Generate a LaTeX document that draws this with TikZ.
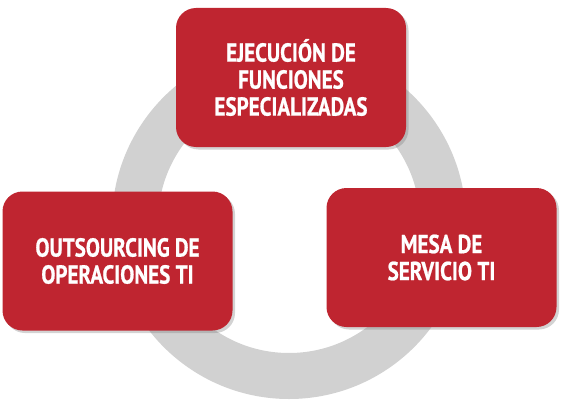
\documentclass[tikz,border=0pt]{standalone}
\usepackage{fontspec}
\setmainfont{PT Sans}[FakeStretch=0.81, BoldFeatures={FakeBold=0.8}]
\usetikzlibrary{shadows}

\definecolor{boxred}{RGB}{191,37,48}
\definecolor{ringgray}{RGB}{209,209,209}

\begin{document}
\begin{tikzpicture}[x=1pt,y=1pt,
  area/.style={fill=boxred, rounded corners=20pt, minimum width=230pt,
    minimum height=139pt, text=white, align=center,
    font=\bfseries\fontsize{26}{27}\selectfont,
    drop shadow={shadow xshift=2.5pt, shadow yshift=-2.5pt, opacity=0.35}}]

\useasboundingbox (0,0) rectangle (567,400);

% ring behind the three boxes
\draw[ringgray, line width=46pt] (289,178) circle (154pt);

\node[area] (ejecucion) at (291,322.5) {EJECUCIÓN DE\\FUNCIONES\\ESPECIALIZADAS};
\node[area] (outsourcing) at (117.5,139) {OUTSOURCING DE\\OPERACIONES TI};
\node[area] (mesa) at (441.5,142.5) {MESA DE\\SERVICIO TI};

\end{tikzpicture}
\end{document}
